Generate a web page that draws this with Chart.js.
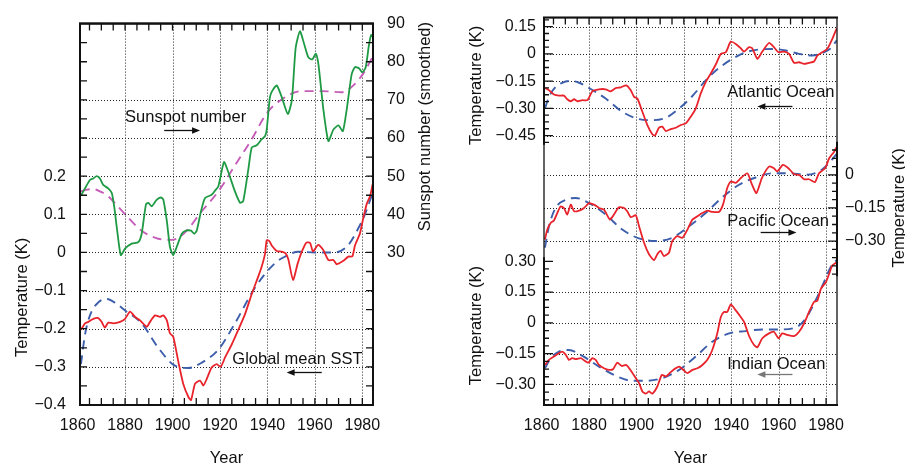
<!DOCTYPE html>
<html><head><meta charset="utf-8">
<script src="https://cdn.jsdelivr.net/npm/chart.js@4.4.0/dist/chart.umd.min.js"></script>
<style>
html,body{margin:0;padding:0;background:#fff;width:905px;height:466px;overflow:hidden}
#c1{position:absolute;left:0;top:0}
#c2{position:absolute;left:450px;top:0}
</style></head><body>
<canvas id="c1" width="450" height="466" style="width:450px;height:466px"></canvas>
<canvas id="c2" width="455" height="466" style="width:455px;height:466px"></canvas>
<script>
// ---------- tick labels / grid values ----------
const xTicks = [1860, 1880, 1900, 1920, 1940, 1960, 1980];
const gridYears = [1880, 1900, 1920, 1940, 1960, 1980];
const tempTicks = [-0.4, -0.3, -0.2, -0.1, 0, 0.1, 0.2];
const tempGrid = [-0.3, -0.2, -0.1, 0, 0.1, 0.2, 0.3, 0.4];
const sunspotTicks = [30, 40, 50, 60, 70, 80, 90];
const atlTicks = [0.15, 0, -0.15, -0.3, -0.45];
const pacTicks = [0, -0.15, -0.3];
const indTicks = [0.3, 0.15, 0, -0.15, -0.3];
const atlGrid = [0.15, 0, -0.15, -0.3, -0.45];
const pacGrid = [0, -0.15, -0.3];
const indGrid = [0.15, 0, -0.15, -0.3];

// ---------- left panel series ----------
const sunspotYears = [1861.4,1863.1,1865.2,1866.6,1868.0,1869.4,1870.8,1872.9,1874.4,1875.5,1876.5,1878.2,1880.0,1882.8,1885.6,1887.0,1888.8,1889.8,1891.2,1893.3,1895.1,1896.1,1897.6,1898.9,1900.3,1901.8,1903.9,1905.7,1907.8,1909.1,1910.2,1912.0,1913.7,1916.5,1917.9,1919.3,1921.7,1923.5,1926.3,1928.5,1929.8,1932.0,1933.4,1935.5,1937.6,1939.0,1939.7,1941.0,1941.8,1943.9,1946.0,1948.6,1950.3,1951.9,1953.7,1955.6,1957.2,1958.9,1960.4,1961.5,1963.6,1965.7,1967.8,1969.9,1971.8,1973.4,1975.5,1976.9,1978.6,1980.0,1981.4,1982.8,1983.7,1984.5];
const sunspotValues = [44.9,46.8,49.0,49.4,50.0,49.4,47.7,46.8,45.6,41.7,36.6,29.3,31.0,32.3,32.7,34.9,42.6,43.0,42.1,43.8,44.4,43.9,38.3,31.5,29.3,31.5,34.9,35.7,35.7,34.9,35.7,40.8,44.3,45.1,46.2,47.3,53.7,51.1,46.0,43.0,43.5,52.0,57.5,58.1,59.7,60.5,62.2,70.5,72.1,73.8,70.8,66.3,69.9,83.6,88.0,84.4,81.2,80.6,82.1,79.3,67.4,59.2,62.2,63.3,61.8,67.4,76.7,78.6,78.3,77.2,78.5,84.4,87.0,86.5];
const smoothYears = [1861.4,1863.5,1866.6,1870.1,1872.9,1876.5,1880.0,1887.0,1894.0,1899.7,1905.3,1912.3,1919.3,1926.3,1933.4,1939.7,1946.0,1954.5,1962.9,1971.3,1976.9,1981.1,1984.5];
const smoothValues = [46.0,46.4,46.6,45.8,44.7,42.4,40.0,35.7,33.6,33.3,35.3,40.8,46.0,52.8,59.7,66.5,70.1,72.3,72.3,72.0,74.2,77.6,81.5];
const globalYears = [1861.4,1863.1,1864.5,1866.6,1868.7,1870.1,1871.5,1872.9,1875.0,1877.9,1880.0,1882.1,1884.2,1886.3,1889.1,1890.5,1892.6,1894.7,1896.1,1897.6,1898.9,1900.3,1902.4,1904.5,1906.7,1907.8,1909.5,1911.6,1913.0,1914.4,1916.5,1918.6,1920.3,1922.1,1924.9,1927.7,1930.6,1933.4,1936.2,1937.6,1939.0,1939.7,1940.8,1941.8,1943.9,1946.0,1947.6,1948.8,1950.8,1952.8,1954.5,1956.4,1958.0,1959.2,1961.4,1963.6,1965.7,1967.8,1969.2,1972.0,1974.1,1975.8,1976.9,1979.0,1980.4,1981.9,1983.3,1984.3];
const globalValues = [-0.203,-0.186,-0.182,-0.174,-0.172,-0.182,-0.197,-0.184,-0.186,-0.182,-0.174,-0.155,-0.169,-0.178,-0.195,-0.182,-0.165,-0.169,-0.165,-0.178,-0.212,-0.221,-0.285,-0.344,-0.379,-0.387,-0.344,-0.336,-0.349,-0.332,-0.302,-0.293,-0.300,-0.276,-0.242,-0.203,-0.161,-0.109,-0.062,-0.037,-0.003,0.032,0.030,0.018,0.004,0.002,-0.002,-0.018,-0.072,-0.028,0.002,0.026,0.025,0.002,0.020,0.006,-0.020,-0.020,-0.031,-0.022,-0.011,-0.010,0.018,0.050,0.090,0.128,0.148,0.178];
const globalFitYears = [1861.4,1863.1,1865.2,1868.7,1872.3,1876.5,1880.0,1887.0,1894.0,1901.0,1906.7,1912.3,1919.3,1926.3,1934.8,1943.2,1947.4,1953.0,1960.0,1968.5,1974.0,1978.2,1981.1,1984.3];
const globalFitValues = [-0.293,-0.216,-0.165,-0.131,-0.122,-0.135,-0.152,-0.186,-0.250,-0.297,-0.303,-0.289,-0.255,-0.186,-0.092,-0.028,-0.011,0.002,0.000,0.000,0.019,0.062,0.100,0.155];

// ---------- right panel series ----------
const atlYears = [1861.4,1863.1,1865.2,1867.3,1869.4,1870.8,1872.3,1873.7,1875.1,1877.2,1879.3,1881.4,1884.2,1887.0,1889.1,1891.3,1893.4,1895.7,1897.6,1899.0,1900.4,1902.5,1904.6,1906.7,1907.8,1909.5,1910.9,1912.4,1914.5,1916.6,1918.7,1920.8,1922.9,1925.0,1927.1,1929.2,1931.3,1933.4,1935.6,1937.7,1939.8,1941.9,1944.0,1945.4,1947.5,1948.9,1951.0,1953.1,1955.9,1958.0,1959.9,1962.3,1964.4,1966.5,1968.6,1970.7,1972.8,1974.9,1976.3,1978.4,1980.5,1982.6,1984.5];
const atlValues = [-0.188,-0.200,-0.224,-0.230,-0.230,-0.250,-0.261,-0.250,-0.261,-0.255,-0.255,-0.206,-0.195,-0.195,-0.206,-0.188,-0.184,-0.173,-0.200,-0.237,-0.246,-0.319,-0.392,-0.443,-0.450,-0.407,-0.401,-0.425,-0.414,-0.407,-0.392,-0.383,-0.346,-0.301,-0.219,-0.155,-0.109,-0.060,0.000,0.009,0.068,0.055,0.031,0.013,0.037,0.030,-0.027,0.013,0.060,0.037,0.009,0.013,0.000,-0.049,-0.046,-0.055,-0.049,-0.042,-0.009,0.009,0.027,0.082,0.141];
const atlFitYears = [1861.4,1863.1,1865.9,1868.7,1872.3,1875.8,1880.0,1887.0,1894.0,1901.1,1906.7,1912.4,1918.0,1923.6,1929.2,1934.8,1940.5,1946.1,1951.7,1957.3,1963.0,1968.6,1974.2,1978.4,1982.0,1984.5];
const atlFitValues = [-0.301,-0.237,-0.182,-0.159,-0.149,-0.159,-0.188,-0.246,-0.319,-0.359,-0.365,-0.352,-0.301,-0.232,-0.146,-0.078,-0.027,0.009,0.024,0.027,0.019,0.000,-0.009,0.005,0.031,0.075];
const pacYears = [1861.4,1862.4,1863.8,1865.2,1866.6,1868.0,1869.4,1870.8,1872.3,1873.7,1875.8,1877.9,1880.0,1882.1,1884.2,1886.3,1888.8,1890.5,1892.6,1894.8,1896.1,1897.6,1899.7,1901.1,1903.2,1905.3,1907.4,1908.8,1910.2,1911.6,1913.7,1915.1,1917.2,1919.4,1921.5,1923.6,1925.7,1927.8,1929.9,1932.0,1934.8,1936.5,1938.3,1939.8,1941.9,1944.0,1946.8,1948.5,1950.6,1952.9,1955.9,1958.0,1959.4,1961.8,1964.1,1966.5,1968.6,1970.7,1972.8,1975.3,1977.0,1979.6,1981.3,1983.4,1984.5];
const pacValues = [-0.293,-0.248,-0.218,-0.207,-0.173,-0.143,-0.150,-0.180,-0.135,-0.165,-0.162,-0.150,-0.128,-0.135,-0.150,-0.158,-0.203,-0.180,-0.147,-0.150,-0.165,-0.192,-0.183,-0.233,-0.308,-0.360,-0.387,-0.360,-0.345,-0.368,-0.353,-0.300,-0.278,-0.285,-0.248,-0.203,-0.188,-0.173,-0.162,-0.168,-0.168,-0.135,-0.060,-0.030,-0.036,-0.015,0.007,-0.038,-0.083,-0.015,0.037,0.030,0.015,0.045,0.030,0.003,0.000,-0.020,-0.020,-0.033,0.007,0.030,0.075,0.105,0.127];
const pacFitYears = [1861.4,1863.1,1865.9,1870.2,1874.4,1880.0,1887.0,1894.0,1901.1,1908.1,1915.1,1922.2,1929.2,1936.2,1943.3,1950.3,1957.3,1964.4,1971.4,1977.0,1980.5,1984.5];
const pacFitValues = [-0.330,-0.233,-0.150,-0.113,-0.105,-0.128,-0.180,-0.248,-0.288,-0.300,-0.285,-0.233,-0.173,-0.102,-0.045,-0.012,0.007,0.007,0.000,0.015,0.045,0.095];
const indYears = [1861.4,1863.1,1865.2,1867.3,1868.7,1870.2,1871.5,1872.9,1874.4,1876.5,1877.9,1879.7,1881.4,1882.8,1884.2,1886.3,1888.4,1890.1,1891.9,1893.8,1895.7,1897.6,1899.7,1901.1,1902.5,1903.9,1905.3,1906.7,1908.8,1910.7,1912.4,1914.0,1915.9,1918.0,1920.1,1921.5,1923.6,1925.7,1927.8,1929.9,1932.0,1934.1,1935.6,1936.9,1938.3,1939.8,1941.9,1944.0,1945.4,1947.5,1949.6,1951.0,1953.1,1955.9,1958.0,1959.9,1961.5,1963.7,1966.5,1968.6,1970.7,1972.8,1974.9,1976.3,1977.8,1979.9,1981.3,1982.6,1984.5];
const indValues = [-0.205,-0.180,-0.164,-0.148,-0.140,-0.156,-0.180,-0.172,-0.177,-0.172,-0.182,-0.194,-0.172,-0.180,-0.205,-0.221,-0.229,-0.226,-0.194,-0.210,-0.205,-0.232,-0.269,-0.293,-0.334,-0.345,-0.334,-0.345,-0.310,-0.253,-0.261,-0.245,-0.226,-0.213,-0.232,-0.245,-0.229,-0.221,-0.205,-0.180,-0.132,-0.051,0.029,0.053,0.053,0.090,0.061,0.029,0.005,-0.064,-0.108,-0.119,-0.075,-0.051,-0.043,-0.075,-0.051,-0.059,-0.064,-0.043,-0.003,0.053,0.102,0.107,0.166,0.198,0.239,0.279,0.295];
const indFitYears = [1861.4,1863.8,1867.3,1871.5,1877.2,1884.2,1891.3,1898.3,1903.9,1910.9,1918.0,1925.0,1932.0,1939.1,1946.1,1953.1,1960.2,1967.2,1971.4,1975.6,1979.1,1981.9,1984.5];
const indFitValues = [-0.221,-0.172,-0.140,-0.132,-0.161,-0.213,-0.258,-0.282,-0.282,-0.269,-0.229,-0.164,-0.092,-0.051,-0.040,-0.032,-0.032,-0.022,0.021,0.110,0.198,0.271,0.307];

// ---------- helpers ----------
const FONT = '"Liberation Sans", Arial, Helvetica, sans-serif';
const RED = '#e8232b', GREEN = '#1f9a44', MAGENTA = '#c65db8', BLUE = '#3c5eab';
const pts = (xs, ys) => xs.map((x, i) => ({x, y: ys[i]}));
const steps = (from, to, step) => { const out = []; const n = Math.round((to - from) / step); for (let i = 0; i <= n; i++) out.push(+(from + i * step).toFixed(6)); return out; };
const fmt1 = v => Math.abs(v) < 1e-9 ? '0' : (v < 0 ? '\u2212' : '') + Math.abs(v).toFixed(1);
const fmt2 = v => Math.abs(v) < 1e-9 ? '0' : (v < 0 ? '\u2212' : '') + Math.abs(v).toFixed(2);
const fmt0 = v => String(v);

function solid(data, axis, color) {
  return {data, yAxisID: axis, borderColor: color, borderWidth: 1.8, pointRadius: 0, fill: false, tension: 0.2};
}
function dashed(data, axis, color) {
  return {data, yAxisID: axis, borderColor: color, borderWidth: 1.9, borderDash: [9, 6], pointRadius: 0, fill: false, cubicInterpolationMode: 'monotone'};
}
function xScale(min, max) {
  return {type: 'linear', position: 'bottom', min, max,
    grid: {display: false, drawTicks: false}, border: {display: false},
    ticks: {color: '#111', font: {family: FONT, size: 16}, padding: 11, autoSkip: false, maxRotation: 0, callback: v => String(v)},
    afterBuildTicks: s => { s.ticks = xTicks.map(v => ({value: v})); },
    afterFit: s => { s.height = 61; }};
}
function yScale(pos, min, max, ticks, fmt, width, pad, weight, showLabels) {
  return {type: 'linear', position: pos, min, max, weight,
    grid: {display: false, drawTicks: false}, border: {display: false},
    ticks: {display: showLabels !== false, color: '#111', font: {family: FONT, size: 16}, padding: pad, autoSkip: false, callback: v => fmt(v)},
    afterBuildTicks: s => { s.ticks = ticks.map(v => ({value: v})); },
    afterFit: s => { s.width = width; }};
}

function decoPlugin(cfg) {
  return {
    id: 'deco',
    beforeDatasetsDraw(chart) {
      const {ctx, chartArea: a, scales} = chart;
      ctx.save();
      ctx.strokeStyle = '#222'; ctx.lineWidth = 1; ctx.setLineDash([1, 2]);
      ctx.beginPath();
      cfg.vGrid.forEach(v => { const x = Math.round(scales.x.getPixelForValue(v)) + 0.5; ctx.moveTo(x, a.top); ctx.lineTo(x, a.bottom); });
      cfg.hGrid.forEach(g => g.values.forEach(v => { const y = Math.round(scales[g.axis].getPixelForValue(v)) + 0.5; ctx.moveTo(a.left, y); ctx.lineTo(a.right, y); }));
      ctx.stroke();
      ctx.restore();
    },
    afterDatasetsDraw(chart) {
      const {ctx, chartArea: a, scales} = chart;
      const X = scales.x;
      const clampY = y => Math.max(a.top, Math.min(a.bottom, y));
      ctx.save();
      ctx.setLineDash([]);
      ctx.strokeStyle = '#111';
      ctx.lineWidth = cfg.frameWidth;
      ctx.strokeRect(a.left, a.top, a.right - a.left, a.bottom - a.top);
      ctx.lineWidth = cfg.axisWidth;
      ctx.beginPath();
      ctx.moveTo(a.left - 1, a.top); ctx.lineTo(a.right + 1, a.top);
      ctx.moveTo(a.left - 1, a.bottom); ctx.lineTo(a.right + 1, a.bottom);
      cfg.axisSegments.forEach(s => {
        const x = s.side === 'left' ? a.left : a.right;
        ctx.moveTo(x, clampY(scales[s.axis].getPixelForValue(s.from)));
        ctx.lineTo(x, clampY(scales[s.axis].getPixelForValue(s.to)));
      });
      ctx.stroke();
      ctx.lineWidth = 1.3;
      ctx.beginPath();
      cfg.xMarks.forEach(v => {
        const x = X.getPixelForValue(v);
        ctx.moveTo(x, a.bottom); ctx.lineTo(x, a.bottom - cfg.xTickLen);
        ctx.moveTo(x, a.top); ctx.lineTo(x, a.top + cfg.xTickLen);
      });
      cfg.yMarks.forEach(g => g.values.forEach(v => {
        const y = scales[g.axis].getPixelForValue(v);
        const len = g.major.some(m => Math.abs(m - v) < 1e-6) ? g.majorLen : g.minorLen;
        g.sides.forEach(side => {
          if (side === 'left') { ctx.moveTo(a.left, y); ctx.lineTo(a.left + len, y); }
          else { ctx.moveTo(a.right, y); ctx.lineTo(a.right - len, y); }
        });
      }));
      ctx.stroke();
      // tick labels of the overlaid inner axis (scale drawn with zero width)
      ctx.font = `16px ${FONT}`; ctx.fillStyle = '#111'; ctx.textBaseline = 'middle'; ctx.textAlign = 'right';
      (cfg.extraLabels || []).forEach(l => l.values.forEach(v => {
        ctx.fillText(l.fmt(v), a.left - l.pad, scales[l.axis].getPixelForValue(v));
      }));
      // annotations
      ctx.font = `16.5px ${FONT}`; ctx.fillStyle = '#111'; ctx.textBaseline = 'alphabetic'; ctx.textAlign = 'left';
      cfg.notes.forEach(n => ctx.fillText(n.text, X.getPixelForValue(n.x), scales[n.axis].getPixelForValue(n.y)));
      cfg.arrows.forEach(r => {
        const x1 = X.getPixelForValue(r.from), x2 = X.getPixelForValue(r.to), y = Math.round(scales[r.axis].getPixelForValue(r.y)) + 0.5;
        const dir = Math.sign(x2 - x1);
        ctx.strokeStyle = r.color; ctx.fillStyle = r.color; ctx.lineWidth = 1.3;
        ctx.beginPath(); ctx.moveTo(x1, y); ctx.lineTo(x2 - dir * 6, y); ctx.stroke();
        ctx.beginPath(); ctx.moveTo(x2, y); ctx.lineTo(x2 - dir * 8, y - 3.2); ctx.lineTo(x2 - dir * 8, y + 3.2); ctx.closePath(); ctx.fill();
      });
      // axis titles
      ctx.fillStyle = '#111';
      cfg.titles.forEach(t => {
        ctx.save();
        ctx.font = `16.5px ${FONT}`;
        ctx.textAlign = 'center'; ctx.textBaseline = 'alphabetic';
        if (t.rotate) {
          const bx = t.side === 'left' ? a.left - t.offset : a.right + t.offset;
          const cy = scales[t.axis].getPixelForValue(t.at);
          ctx.translate(bx, cy); ctx.rotate(-Math.PI / 2); ctx.fillText(t.text, 0, 0);
        } else {
          ctx.fillText(t.text, (a.left + a.right) / 2, a.bottom + t.offset);
        }
        ctx.restore();
      });
      ctx.restore();
    }
  };
}

const common = {responsive: false, animation: false, devicePixelRatio: 1, events: [],
  plugins: {legend: {display: false}, tooltip: {enabled: false}}};

// ---------- left chart ----------
new Chart(document.getElementById('c1'), {
  type: 'line',
  data: {datasets: [
    solid(pts(globalYears, globalValues), 'yT', RED),
    solid(pts(sunspotYears, sunspotValues), 'yS', GREEN),
    dashed(pts(globalFitYears, globalFitValues), 'yT', BLUE),
    dashed(pts(smoothYears, smoothValues), 'yS', MAGENTA)
  ]},
  options: Object.assign({}, common, {
    layout: {padding: {top: 15, left: 0, right: 0, bottom: 0}},
    scales: {
      x: xScale(1861, 1984.5),
      yT: yScale('left', -0.4, 0.6, tempTicks, fmt1, 80, 14, 0),
      yS: yScale('right', -10, 90, sunspotTicks, fmt0, 77, 14, 0)
    }
  }),
  plugins: [decoPlugin({
    vGrid: gridYears,
    hGrid: [{axis: 'yT', values: tempGrid}],
    frameWidth: 2, axisWidth: 2,
    axisSegments: [{side: 'left', axis: 'yT', from: 0.6, to: -0.4}, {side: 'right', axis: 'yT', from: 0.6, to: -0.4}],
    xMarks: steps(1865, 1980, 5), xTickLen: 7,
    yMarks: [{axis: 'yT', sides: ['left', 'right'], values: steps(-0.35, 0.55, 0.05), major: [], majorLen: 7, minorLen: 7}],
    notes: [
      {text: 'Sunspot number', axis: 'yS', x: 1880.0, y: 64.1},
      {text: 'Global mean SST', axis: 'yT', x: 1925.2, y: -0.293}
    ],
    arrows: [
      {axis: 'yS', from: 1896.5, to: 1911.6, y: 62.2, color: '#111'},
      {axis: 'yT', from: 1962.9, to: 1948.1, y: -0.313, color: '#111'}
    ],
    titles: [
      {text: 'Temperature (K)', rotate: true, side: 'left', offset: 53.2, axis: 'yT', at: -0.118},
      {text: 'Sunspot number (smoothed)', rotate: true, side: 'right', offset: 57, axis: 'yS', at: 63},
      {text: 'Year', rotate: false, offset: 57.7}
    ]
  })]
});

// ---------- right chart ----------
new Chart(document.getElementById('c2'), {
  type: 'line',
  data: {datasets: [
    solid(pts(atlYears, atlValues), 'yA', RED),
    solid(pts(pacYears, pacValues), 'yP', RED),
    solid(pts(indYears, indValues), 'yI', RED),
    dashed(pts(atlFitYears, atlFitValues), 'yA', BLUE),
    dashed(pts(pacFitYears, pacFitValues), 'yP', BLUE),
    dashed(pts(indFitYears, indFitValues), 'yI', BLUE)
  ]},
  options: Object.assign({}, common, {
    layout: {padding: {top: 15, left: 0, right: 0, bottom: 0}},
    scales: {
      x: xScale(1861, 1984.6),
      yA: yScale('left', -1.9346, 0.2, atlTicks, fmt2, 94, 8, 1),
      yI: yScale('left', -0.4, 1.4868, indTicks, fmt2, 0, 8, 0, false),
      yP: yScale('right', -1.0428, 0.7124, pacTicks, fmt2, 68, 8, 0)
    }
  }),
  plugins: [decoPlugin({
    vGrid: gridYears,
    hGrid: [{axis: 'yA', values: atlGrid}, {axis: 'yP', values: pacGrid}, {axis: 'yI', values: indGrid}],
    frameWidth: 1.3, axisWidth: 2,
    axisSegments: [
      {side: 'left', axis: 'yA', from: 0.2, to: -0.5},
      {side: 'left', axis: 'yI', from: 0.32, to: -0.4},
      {side: 'right', axis: 'yP', from: 0.15, to: -0.46}
    ],
    xMarks: steps(1865, 1980, 5), xTickLen: 7,
    yMarks: [
      {axis: 'yA', sides: ['left'], values: steps(-0.4875, 0.1875, 0.0375), major: atlTicks, majorLen: 9, minorLen: 5},
      {axis: 'yP', sides: ['right'], values: steps(-0.45, 0.1125, 0.0375), major: pacTicks, majorLen: 9, minorLen: 5},
      {axis: 'yI', sides: ['left'], values: steps(-0.375, 0.3, 0.0375), major: indTicks, majorLen: 9, minorLen: 5}
    ],
    extraLabels: [{axis: 'yI', values: indTicks, fmt: fmt2, pad: 8}],
    notes: [
      {text: 'Atlantic Ocean', axis: 'yA', x: 1938.3, y: -0.237},
      {text: 'Pacific Ocean', axis: 'yP', x: 1938.3, y: -0.233},
      {text: 'Indian Ocean', axis: 'yI', x: 1938.3, y: -0.223}
    ],
    arrows: [
      {axis: 'yA', from: 1965.8, to: 1951.0, y: -0.286, color: '#111'},
      {axis: 'yP', from: 1952.4, to: 1967.5, y: -0.258, color: '#111'},
      {axis: 'yI', from: 1965.8, to: 1951.0, y: -0.25, color: '#777'}
    ],
    titles: [
      {text: 'Temperature (K)', rotate: true, side: 'left', offset: 63, axis: 'yA', at: -0.173},
      {text: 'Temperature (K)', rotate: true, side: 'left', offset: 63, axis: 'yI', at: -0.013},
      {text: 'Temperature (K)', rotate: true, side: 'right', offset: 66.5, axis: 'yP', at: -0.15},
      {text: 'Year', rotate: false, offset: 57.7}
    ]
  })]
});
</script></body></html>
